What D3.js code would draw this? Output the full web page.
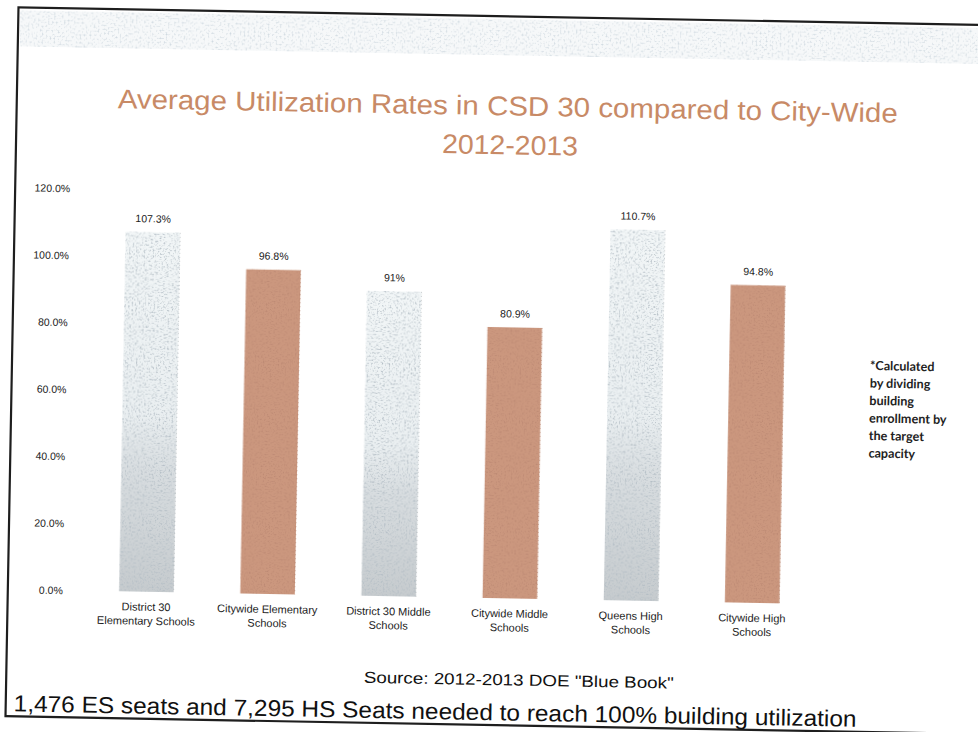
<!DOCTYPE html>
<html>
<head>
<meta charset="utf-8">
<script src="https://cdn.jsdelivr.net/npm/d3@7"></script>
<style>
  html, body { margin: 0; padding: 0; background: #fff; }
  svg { display: block; }
</style>
</head>
<body>
<svg id="chart" width="978" height="732"></svg>
<script>
// ---- data ----
const categories = [
  "District 30\nElementary Schools",
  "Citywide Elementary\nSchools",
  "District 30 Middle\nSchools",
  "Citywide Middle\nSchools",
  "Queens High\nSchools",
  "Citywide High\nSchools"
];
const values = [107.3, 96.8, 91, 80.9, 110.7, 94.8];
const valueLabels = ["107.3%", "96.8%", "91%", "80.9%", "110.7%", "94.8%"];
const barGroups = ["local", "city", "local", "city", "local", "city"];
const yTicks = [0, 20, 40, 60, 80, 100, 120];
const titleLines = ["Average Utilization Rates in CSD 30 compared to City-Wide", "2012-2013"];
const footnoteLines = ["*Calculated", "by dividing", "building", "enrollment by", "the target", "capacity"];
const sourceText = "Source: 2012-2013 DOE \"Blue Book\"";
const bottomText = "1,476 ES seats and 7,295 HS Seats needed to reach 100% building utilization";

// ---- setup ----
const svg = d3.select("#chart");
const defs = svg.append("defs");

const gGray = defs.append("linearGradient").attr("id", "grayGrad")
  .attr("x1", 0).attr("y1", 0).attr("x2", 0).attr("y2", 1);
[[0, "#f2f6f7"], [0.5, "#eaeff1"], [0.66, "#d8dde0"], [1, "#c6cbce"]].forEach(([o, c]) =>
  gGray.append("stop").attr("offset", o).attr("stop-color", c));

function speckle(id, dark, freq, k, b) {
  const f = defs.append("filter").attr("id", id)
    .attr("x", 0).attr("y", 0).attr("width", 1).attr("height", 1)
    .attr("color-interpolation-filters", "sRGB");
  f.append("feTurbulence").attr("type", "fractalNoise").attr("baseFrequency", freq)
    .attr("numOctaves", 2).attr("seed", 11).attr("result", "noise");
  f.append("feColorMatrix").attr("in", "noise").attr("type", "matrix")
    .attr("values", `0 0 0 0 ${dark[0]}  0 0 0 0 ${dark[1]}  0 0 0 0 ${dark[2]}  ${k} 0 0 0 ${b}`)
    .attr("result", "dots");
  f.append("feComposite").attr("in", "dots").attr("in2", "SourceGraphic")
    .attr("operator", "in").attr("result", "d2");
  const m = f.append("feMerge");
  m.append("feMergeNode").attr("in", "SourceGraphic");
  m.append("feMergeNode").attr("in", "d2");
}
speckle("speckGray", [0.70, 0.74, 0.77], 0.55, 3.2, -1.65);
speckle("speckCity", [0.72, 0.52, 0.44], 0.6, 2.5, -1.3);
speckle("speckBand", [0.80, 0.84, 0.87], 0.5, 3.0, -1.55);

// whole page scanned slightly rotated
const page = svg.append("g").attr("transform", "rotate(1.05,489,366)");

// frame
page.append("rect").attr("x", 12).attr("y", 16).attr("width", 1000).attr("height", 709)
  .attr("fill", "none").attr("stroke", "#1e1e1e").attr("stroke-width", 2.2);

// speckled band at top
page.append("rect").attr("x", 14).attr("y", 19).attr("width", 990).attr("height", 36)
  .attr("fill", "#f6f8f9").attr("filter", "url(#speckBand)");

// title
page.append("g").selectAll("text").data(titleLines).join("text")
  .attr("x", (d, i) => i === 0 ? 503 : 506)
  .attr("y", (d, i) => i === 0 ? 115 : 154)
  .attr("text-anchor", "middle")
  .attr("font-family", "'Liberation Sans', Arial, sans-serif")
  .attr("font-size", 27)
  .attr("fill", "#c88a66")
  .attr("textLength", (d, i) => i === 0 ? 780 : 136)
  .attr("lengthAdjust", "spacingAndGlyphs")
  .text(d => d);

// scales
const x = d3.scaleBand().domain(categories).range([90, 817]).paddingInner(0.55).paddingOuter(0.275);
const y = d3.scaleLinear().domain([0, 120]).range([598, 196]);

// y axis
const yAxis = page.append("g").attr("transform", "translate(67,0)")
  .call(d3.axisLeft(y).tickValues(yTicks).tickSize(0).tickPadding(0)
    .tickFormat(d => d3.format(".1f")(d) + "%"));
yAxis.select(".domain").remove();
yAxis.selectAll("text")
  .attr("font-family", "'Liberation Sans', Arial, sans-serif")
  .attr("font-size", 10.5).attr("fill", "#222");

// bars
const bars = page.append("g");
bars.selectAll("rect").data(values).join("rect")
  .attr("x", (d, i) => x(categories[i]))
  .attr("width", x.bandwidth())
  .attr("y", d => y(d))
  .attr("height", d => y(0) - y(d))
  .attr("fill", (d, i) => barGroups[i] === "local" ? "url(#grayGrad)" : "#cb977e")
  .attr("filter", (d, i) => barGroups[i] === "local" ? "url(#speckGray)" : "url(#speckCity)");

// faint dotted right edges on bars
bars.selectAll("line").data(values).join("line")
  .attr("x1", (d, i) => x(categories[i]) + x.bandwidth())
  .attr("x2", (d, i) => x(categories[i]) + x.bandwidth())
  .attr("y1", d => y(d)).attr("y2", y(0))
  .attr("stroke", (d, i) => barGroups[i] === "local" ? "#9aa0a4" : "#a9735d")
  .attr("stroke-width", 0.8)
  .attr("stroke-dasharray", "1,3")
  .attr("opacity", 0.6);

// value labels
page.append("g").selectAll("text").data(values).join("text")
  .attr("x", (d, i) => x(categories[i]) + x.bandwidth() / 2)
  .attr("y", d => y(d) - 10)
  .attr("text-anchor", "middle")
  .attr("font-family", "'Liberation Sans', Arial, sans-serif")
  .attr("font-size", 10.5).attr("fill", "#222")
  .text((d, i) => valueLabels[i]);

// category labels
const catG = page.append("g");
categories.forEach((c, i) => {
  const t = catG.append("text")
    .attr("x", x(c) + x.bandwidth() / 2)
    .attr("y", 617)
    .attr("text-anchor", "middle")
    .attr("font-family", "'Liberation Sans', Arial, sans-serif")
    .attr("font-size", 11).attr("fill", "#222");
  c.split("\n").forEach((line, j) => {
    t.append("tspan").attr("x", x(c) + x.bandwidth() / 2).attr("dy", j === 0 ? 0 : 14).text(line);
  });
});

// footnote
page.append("g").selectAll("text").data(footnoteLines).join("text")
  .attr("x", 870)
  .attr("y", (d, i) => 363 + i * 17.5)
  .attr("font-family", "Lato, 'Open Sans', sans-serif")
  .attr("font-weight", 700)
  .attr("font-size", 12.6)
  .attr("fill", "#222")
  .text(d => d);

// source
page.append("text")
  .attr("x", 524.5).attr("y", 685)
  .attr("text-anchor", "middle")
  .attr("font-family", "'Liberation Sans', Arial, sans-serif")
  .attr("font-size", 16).attr("fill", "#111")
  .attr("textLength", 310).attr("lengthAdjust", "spacingAndGlyphs")
  .text(sourceText);

// bottom statement
page.append("text")
  .attr("x", 20).attr("y", 720)
  .attr("font-family", "'Liberation Sans', Arial, sans-serif")
  .attr("font-size", 23).attr("fill", "#111")
  .attr("textLength", 843).attr("lengthAdjust", "spacingAndGlyphs")
  .text(bottomText);
</script>
</body>
</html>
